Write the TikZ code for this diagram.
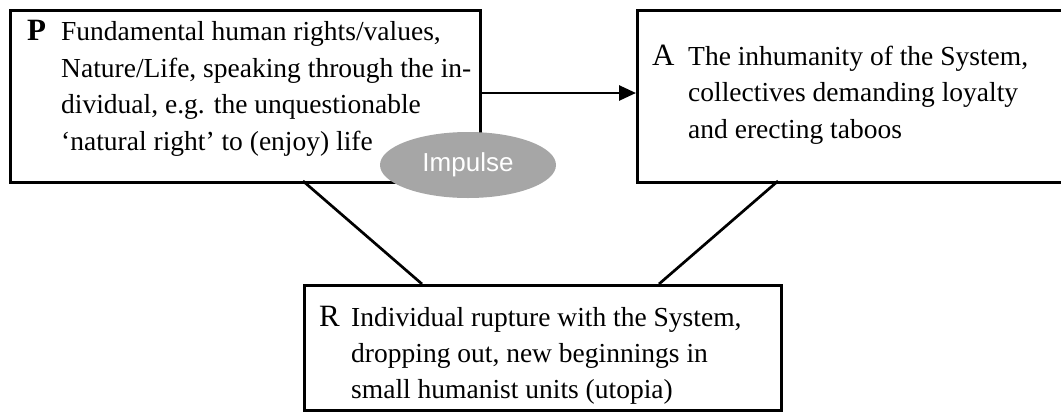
\documentclass[tikz,border=0pt]{standalone}
\usepackage{fontspec}
\setmainfont{Liberation Serif}
\newfontfamily\impulsefont{Liberation Sans}
\newcommand\boxtextsize{\fontsize{27.5pt}{36.5pt}\selectfont}
\newcommand\lettersize{\fontsize{31pt}{36.5pt}\selectfont}
\newcommand\impulsesize{\fontsize{26pt}{30pt}\selectfont}
\usetikzlibrary{arrows.meta,shapes.geometric}
\tikzset{
  boxnode/.style={draw=black, line width=2.7pt, rectangle, anchor=north west, inner sep=0pt},
  letternode/.style={anchor=base west, inner sep=0pt, font=\lettersize},
  textline/.style={anchor=base west, inner sep=0pt, font=\boxtextsize},
  connector/.style={draw=black, line width=2.7pt},
  impulse/.style={ellipse, fill=black!35, draw=none, inner sep=0pt, minimum width=176pt, minimum height=66pt, text=white, font=\impulsefont\impulsesize}
}
\begin{document}
\begin{tikzpicture}[x=1pt,y=-1pt]
\useasboundingbox (0,0) rectangle (1061,416);
% boxes
\node[boxnode, minimum width=470pt, minimum height=172pt] (P) at (9,9) {};
\node[boxnode, minimum width=440pt, minimum height=172pt] (A) at (636,9) {};
\node[boxnode, minimum width=477pt, minimum height=125pt] (R) at (303,284) {};
% P text
\node[letternode, font=\lettersize\bfseries] (Pl) at (27,40) {P};
\node[textline] (P1) at (61,40) {Fundamental human rights/values,};
\node[textline] (P2) at (61,77) {Nature/Life, speaking through the in-};
\node[textline] (P3) at (61,113) {dividual, e.g. the unquestionable};
\node[textline] (P4) at (61,150) {‘natural right’ to (enjoy) life};
% A text
\node[letternode] (Al) at (652,65) {A};
\node[textline] (A1) at (688,65) {The inhumanity of the System,};
\node[textline] (A2) at (688,101) {collectives demanding loyalty};
\node[textline] (A3) at (688,138) {and erecting taboos};
% R text
\node[letternode] (Rl) at (319,326) {R};
\node[textline] (R1) at (351,326) {Individual rupture with the System,};
\node[textline] (R2) at (351,362) {dropping out, new beginnings in};
\node[textline] (R3) at (351,398) {small humanist units (utopia)};
% connectors
\coordinate (PL) at (303,181);
\coordinate (RL) at (422,284);
\coordinate (AR) at (778,181);
\coordinate (RR) at (659,284);
\draw[connector, -{Triangle[length=17pt,width=15pt]}] (P.east |- 0,93) -- (A.west |- 0,93);
\draw[connector] (PL) -- (RL);
\draw[connector] (AR) -- (RR);
% impulse
\node[impulse] (I) at (468,165) {Impulse};
\end{tikzpicture}
\end{document}
